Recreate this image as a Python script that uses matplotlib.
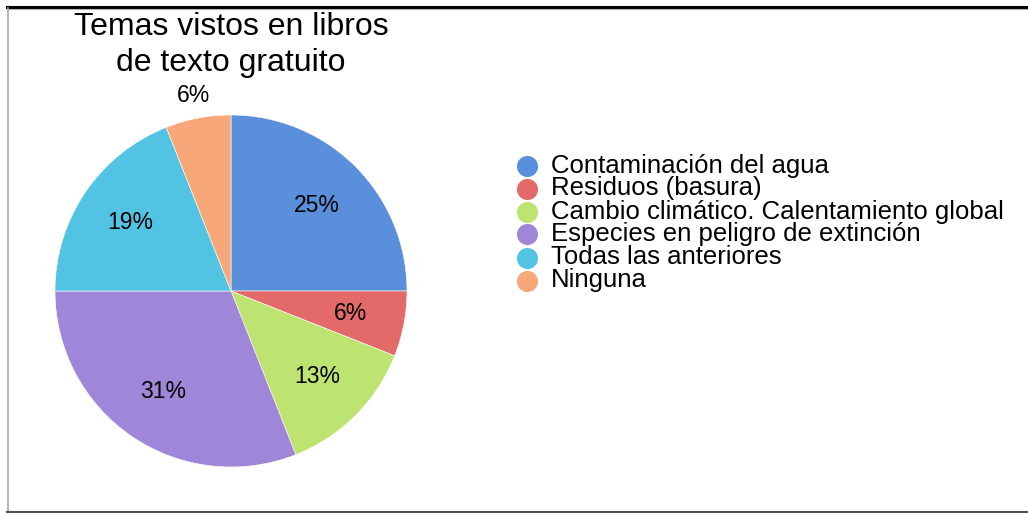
import matplotlib
matplotlib.use('Agg')
import matplotlib.pyplot as plt
from matplotlib.lines import Line2D

plt.rcParams['font.family'] = ['Liberation Sans', 'DejaVu Sans']

# datos
categorias = ['Contaminación del agua', 'Residuos (basura)',
              'Cambio climático. Calentamiento global',
              'Especies en peligro de extinción', 'Todas las anteriores',
              'Ninguna']
porcentajes = [25, 6, 13, 31, 19, 6]
colores = ['#5a8fdc', '#e46a6a', '#bde370', '#a086d8', '#52c3e3', '#f8a878']
titulo = 'Temas vistos en libros\nde texto gratuito'

W, H = 1028, 513
fig = plt.figure(figsize=(W / 100, H / 100), dpi=100)

# marco de la imagen
fig.add_artist(Line2D([7 / W, 1], [1 - 6.5 / H, 1 - 6.5 / H], color='black', lw=2.2))
fig.add_artist(Line2D([7 / W, 1], [1 - 8.5 / H, 1 - 8.5 / H], color='#b0b0b0', lw=0.8))
fig.add_artist(Line2D([7.5 / W, 7.5 / W], [1 - 8 / H, 1 - 511 / H], color='#a8a8a8', lw=1.2))
fig.add_artist(Line2D([7 / W, 1], [1 - 511.5 / H, 1 - 511.5 / H], color='#505050', lw=1.5))

# pastel
cx, cy, r = 231, 291, 176
ax = fig.add_axes([(cx - r) / W, (H - cy - r) / H, 2 * r / W, 2 * r / H])
wedges, texts, autotexts = ax.pie(
    porcentajes, colors=colores, startangle=90, counterclock=False,
    autopct='%d%%', pctdistance=0.69, radius=1,
    wedgeprops=dict(edgecolor='white', linewidth=0.4),
    textprops=dict(fontsize=16.5, color='black'))
# la etiqueta de "Ninguna" va afuera
x, y = autotexts[-1].get_position()
autotexts[-1].set_position((x * 1.13 / 0.69, y * 1.13 / 0.69))
ax.set_xlim(-1, 1)
ax.set_ylim(-1, 1)
ax.set_aspect('equal')
ax.axis('off')

fig.text(cx / W, 1 - 45 / H, titulo, ha='center', va='center',
         fontsize=23, linespacing=1.27)

# leyenda
lax = fig.add_axes([510 / W, 1 - 292 / H, 510 / W, 138 / H])
lax.set_xlim(0, 1)
lax.set_ylim(len(categorias) - 0.5, -0.5)
lax.axis('off')
for i, (cat, col) in enumerate(zip(categorias, colores)):
    lax.scatter([0.033], [i], s=200, color=col)
    lax.text(0.08, i, cat, va='center', ha='left', fontsize=18.5)

fig.savefig('out.png', dpi=100)
